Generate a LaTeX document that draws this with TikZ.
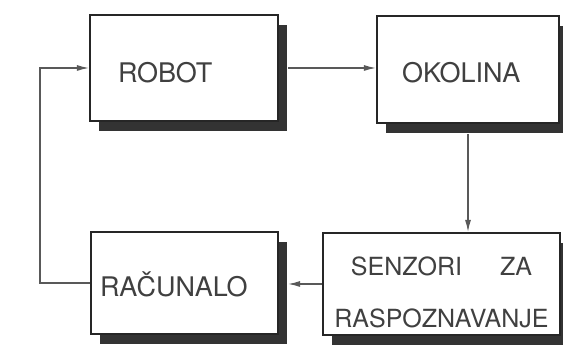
\documentclass[tikz,border=0pt]{standalone}
\usepackage{fontspec}
\setmainfont{TeX Gyre Heros}
\usetikzlibrary{shadows,arrows.meta}

\begin{document}
\begin{tikzpicture}[x=1pt,y=-1pt,
  box/.style = {draw=black!85,line width=2.2pt,fill=white,
        drop shadow={shadow xshift=9pt,shadow yshift=-10pt,
                     fill=black!80,opacity=1},
        align=left,text=black!75,text depth=0pt,
        font=\fontsize{27}{32}\selectfont},
  arr/.style = {draw=black!65,line width=1.2pt,
        -{Latex[length=12pt,width=6pt]}}]
 \useasboundingbox (0,0) rectangle (563,363);
 \node[box,text width=132pt,inner xsep=28pt,minimum height=106pt,
       text height=29pt] (robot) at (184,68) {ROBOT};
 \node[box,text width=132pt,inner xsep=25pt,minimum height=107pt,
       text height=27pt] (okolina) at (468,69.5) {OKOLINA};
 \node[box,text width=169pt,inner xsep=9pt,minimum height=102pt,
       text height=27pt] (racunalo) at (184.5,283) {RAČUNALO};
 \node[box,text width=221pt,inner xsep=8pt,minimum height=102pt,
       align=center,text height=18pt,text depth=34pt,
       font=\fontsize{25}{30}\selectfont] (senzori) at (441.5,284)
       {SENZORI\hspace{38pt}ZA\\[22pt]RASPOZNAVANJE};
 % veze
 \draw[arr] ([xshift=9pt]robot.east) -- (robot.east -| okolina.west);
 \draw[arr] ([yshift=-10pt]okolina.south) -- (okolina.south |- senzori.north);
 \draw[arr] (senzori.west) -- ([xshift=9pt]senzori.west -| racunalo.east);
 \draw[arr] (racunalo.west) -- ++(-50,0) |- (robot.west);
\end{tikzpicture}
\end{document}
